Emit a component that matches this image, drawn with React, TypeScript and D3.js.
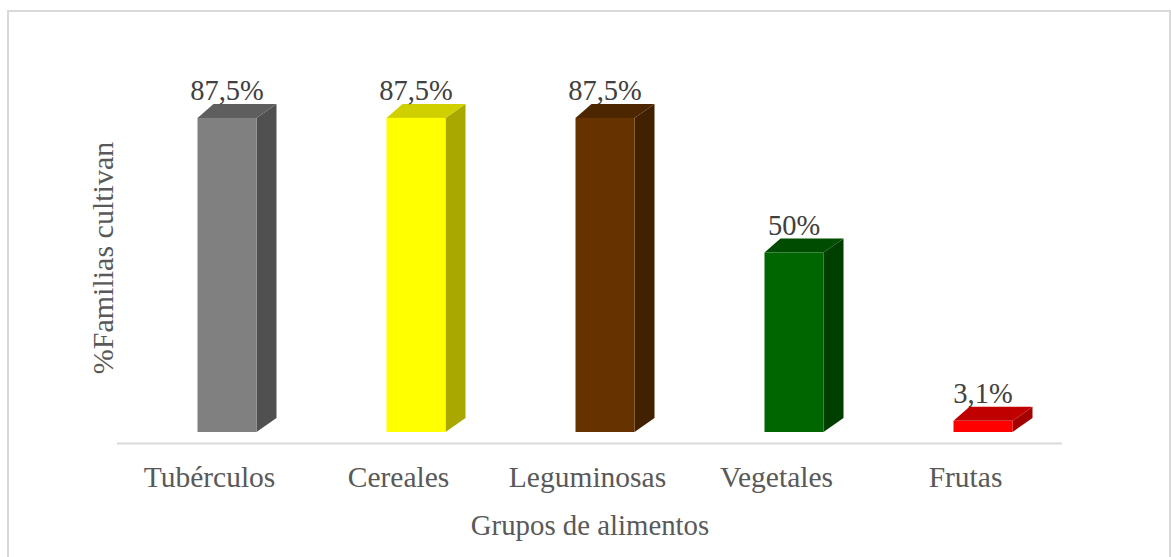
import React, { useEffect, useRef } from "react";
import * as d3 from "d3";

const categories = ["Tubérculos", "Cereales", "Leguminosas", "Vegetales", "Frutas"];
const values = [87.5, 87.5, 87.5, 50, 3.1];
const valueLabels = ["87,5%", "87,5%", "87,5%", "50%", "3,1%"];
const frontColors = ["#808080", "#ffff00", "#663300", "#006600", "#ff0000"];
const topColors = ["#5e5e5e", "#d0d000", "#4c2600", "#004c00", "#c00000"];
const sideColors = ["#505050", "#a8a800", "#422100", "#003f00", "#a50000"];

export default function App() {
  const ref = useRef<SVGSVGElement>(null);

  useEffect(() => {
    const width = 1171;
    const height = 557;
    const svg = d3.select(ref.current);
    svg.selectAll("*").remove();

    const font = "'Liberation Serif', 'Times New Roman', serif";
    const baseY = 432;

    const x = d3.scaleBand().domain(categories).range([117, 1062]);
    const y = d3.scaleLinear().domain([0, 100]).range([baseY, 73]);

    const barW = 59;
    const off = 15.5; // front face offset from band centre
    const dxL = 16, dxR = 20, dy = 14;

    // outer frame
    svg.append("rect")
      .attr("x", 8).attr("y", 11)
      .attr("width", width - 9).attr("height", height + 20)
      .attr("fill", "none").attr("stroke", "#d9d9d9").attr("stroke-width", 2);

    // axis line
    svg.append("line")
      .attr("x1", 117).attr("x2", 1062)
      .attr("y1", 443.5).attr("y2", 443.5)
      .attr("stroke", "#d9d9d9").attr("stroke-width", 2);

    const bars = svg.append("g");
    categories.forEach((c, i) => {
      const x0 = x(c)! + x.bandwidth() / 2 + off - barW / 2;
      const x1 = x0 + barW;
      const yt = y(values[i]);
      const g = bars.append("g");
      // side
      g.append("polygon")
        .attr("points", [[x1, baseY], [x1, yt], [x1 + dxR, yt - dy], [x1 + dxR, baseY - dy]].map(p => p.join(",")).join(" "))
        .attr("fill", sideColors[i]);
      // top
      g.append("polygon")
        .attr("points", [[x0, yt], [x1, yt], [x1 + dxR, yt - dy], [x0 + dxL, yt - dy]].map(p => p.join(",")).join(" "))
        .attr("fill", topColors[i]);
      // front
      g.append("rect")
        .attr("x", x0).attr("y", yt)
        .attr("width", barW).attr("height", baseY - yt)
        .attr("fill", frontColors[i]);
      // value label
      svg.append("text")
        .attr("x", x0 + barW / 2)
        .attr("y", yt - dy - 4)
        .attr("text-anchor", "middle")
        .attr("font-family", font)
        .attr("font-size", 28.5)
        .attr("fill", "#404040")
        .text(valueLabels[i]);
    });

    // category labels
    svg.append("g").selectAll("text")
      .data(categories)
      .join("text")
      .attr("x", d => x(d)! + x.bandwidth() / 2 - 2)
      .attr("y", 487)
      .attr("text-anchor", "middle")
      .attr("font-family", font)
      .attr("font-size", 29.5)
      .attr("fill", "#595959")
      .text(d => d);

    svg.append("text")
      .attr("x", 590).attr("y", 535)
      .attr("text-anchor", "middle")
      .attr("font-family", font)
      .attr("font-size", 28.8)
      .attr("fill", "#595959")
      .text("Grupos de alimentos");

    svg.append("text")
      .attr("transform", "translate(113,258) rotate(-90)")
      .attr("text-anchor", "middle")
      .attr("font-family", font)
      .attr("font-size", 30)
      .attr("fill", "#595959")
      .text("%Familias cultivan");
  }, []);

  return (
    <svg
      ref={ref}
      width={1171}
      height={557}
      style={{ position: "absolute", left: 0, top: 0, background: "#fff" }}
    />
  );
}
